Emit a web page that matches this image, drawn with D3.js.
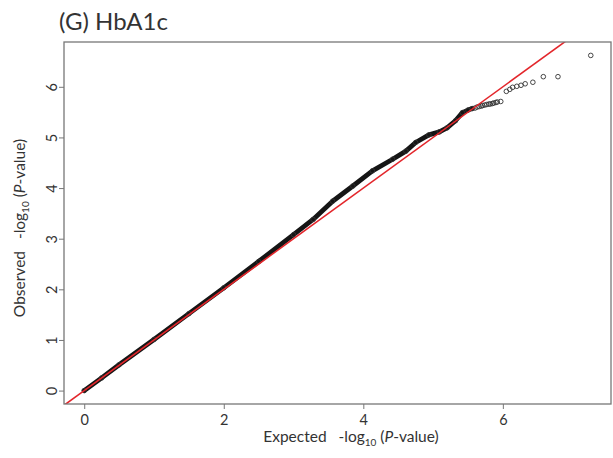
<!DOCTYPE html>
<html>
<head>
<meta charset="utf-8">
<script src="https://cdnjs.cloudflare.com/ajax/libs/d3/7.8.5/d3.min.js"></script>
<style>
    body { margin: 0; background: #fff; }
    text { font-family: Lato, "Open Sans", sans-serif; fill: #333; }
</style>
</head>
<body>
<div id="chart"></div>
<script>
// QQ plot, HbA1c
var width = 613, height = 458;

// dense part of the qq curve (read along the band)
var bandExpected = [0, 0.25, 0.5, 1, 1.5, 2, 2.5, 3, 3.28, 3.56, 3.85, 4.13, 4.42, 4.61, 4.75, 4.94, 5.09, 5.2, 5.32, 5.42, 5.5, 5.56];
var bandObserved = [0, 0.25, 0.51, 1.01, 1.52, 2.03, 2.55, 3.08, 3.38, 3.74, 4.04, 4.34, 4.57, 4.73, 4.9, 5.05, 5.11, 5.19, 5.33, 5.49, 5.54, 5.57];

// single points in the upper tail
var tailExpected = [5.6, 5.63, 5.66, 5.69, 5.71, 5.74, 5.77, 5.8, 5.82, 5.85, 5.87, 5.9, 5.92, 5.97, 6.05, 6.1, 6.14, 6.2, 6.26, 6.32, 6.43, 6.58, 6.79, 7.26];
var tailObserved = [5.58, 5.6, 5.61, 5.62, 5.63, 5.64, 5.65, 5.66, 5.66, 5.67, 5.68, 5.69, 5.7, 5.71, 5.91, 5.95, 5.99, 6.01, 6.03, 6.06, 6.09, 6.2, 6.2, 6.62];

var xTicks = [0, 2, 4, 6];
var yTicks = [0, 1, 2, 3, 4, 5, 6];

var margin = {left: 64, right: 2, top: 42, bottom: 54};

var svg = d3.select("#chart")
    .append("svg")
    .attr("width", width)
    .attr("height", height);

var x = d3.scaleLinear().domain([-0.29, 7.55]).range([margin.left, width - margin.right]);
var y = d3.scaleLinear().domain([-0.265, 6.885]).range([height - margin.bottom, margin.top]);

svg.append("clipPath").attr("id", "box")
    .append("rect")
    .attr("x", margin.left).attr("y", margin.top)
    .attr("width", width - margin.left - margin.right)
    .attr("height", height - margin.top - margin.bottom);

var plot = svg.append("g").attr("clip-path", "url(#box)");

var band = bandExpected.map(function (e, i) { return [e, bandObserved[i]]; });
var tail = tailExpected.map(function (e, i) { return [e, tailObserved[i]]; });

var line = d3.line()
    .x(function (d) { return x(d[0]); })
    .y(function (d) { return y(d[1]); });

plot.append("path")
    .datum(band)
    .attr("d", line)
    .attr("fill", "none")
    .attr("stroke", "#151515")
    .attr("stroke-width", 4.8)
    .attr("stroke-linecap", "round")
    .attr("stroke-linejoin", "round");

plot.selectAll("circle.pt")
    .data(band.concat(tail))
    .enter()
    .append("circle")
    .attr("class", "pt")
    .attr("cx", function (d) { return x(d[0]); })
    .attr("cy", function (d) { return y(d[1]); })
    .attr("r", 2.3)
    .attr("fill", "none")
    .attr("stroke", "#333")
    .attr("stroke-width", 0.9);

// y = x reference line
plot.append("path")
    .datum([[-0.29, -0.29], [7.55, 7.55]])
    .attr("d", line)
    .attr("stroke", "#e3262b")
    .attr("stroke-width", 1.6);

// frame
svg.append("rect")
    .attr("x", margin.left).attr("y", margin.top)
    .attr("width", width - margin.left - margin.right)
    .attr("height", height - margin.top - margin.bottom)
    .attr("fill", "none")
    .attr("stroke", "#777")
    .attr("stroke-width", 1.3);

var xAxis = svg.append("g")
    .attr("transform", "translate(0," + (height - margin.bottom) + ")")
    .call(d3.axisBottom(x).tickValues(xTicks).tickSize(5).tickPadding(6));
var yAxis = svg.append("g")
    .attr("transform", "translate(" + margin.left + ",0)")
    .call(d3.axisLeft(y).tickValues(yTicks).tickSize(5).tickPadding(5));

[xAxis, yAxis].forEach(function (a) {
    a.select(".domain").remove();
    a.selectAll(".tick line").attr("stroke", "#777");
    a.selectAll(".tick text").style("font-size", "14.5px").attr("fill", "#333");
});

yAxis.selectAll(".tick text")
    .attr("text-anchor", "middle")
    .attr("transform", function () {
        return "translate(-12,0) rotate(-90)";
    })
    .attr("x", 0)
    .attr("dy", "0.32em");

svg.append("text")
    .attr("x", 59)
    .attr("y", 30)
    .style("font-size", "24px")
    .attr("fill", "#222")
    .text("(G) HbA1c");

var xl = svg.append("text")
    .attr("x", 351)
    .attr("y", 442)
    .attr("text-anchor", "middle")
    .style("font-size", "15.5px")
    .attr("xml:space", "preserve");
xl.append("tspan").text("Expected   -log");
xl.append("tspan").attr("dy", 4).style("font-size", "10px").text("10");
xl.append("tspan").attr("dy", -4).text(" (");
xl.append("tspan").style("font-style", "italic").text("P");
xl.append("tspan").text("-value)");

var yl = svg.append("text")
    .attr("transform", "translate(25,228) rotate(-90)")
    .attr("text-anchor", "middle")
    .style("font-size", "15.5px")
    .attr("xml:space", "preserve");
yl.append("tspan").text("Observed   -log");
yl.append("tspan").attr("dy", 4).style("font-size", "10px").text("10");
yl.append("tspan").attr("dy", -4).text(" (");
yl.append("tspan").style("font-style", "italic").text("P");
yl.append("tspan").text("-value)");
</script>
</body>
</html>
